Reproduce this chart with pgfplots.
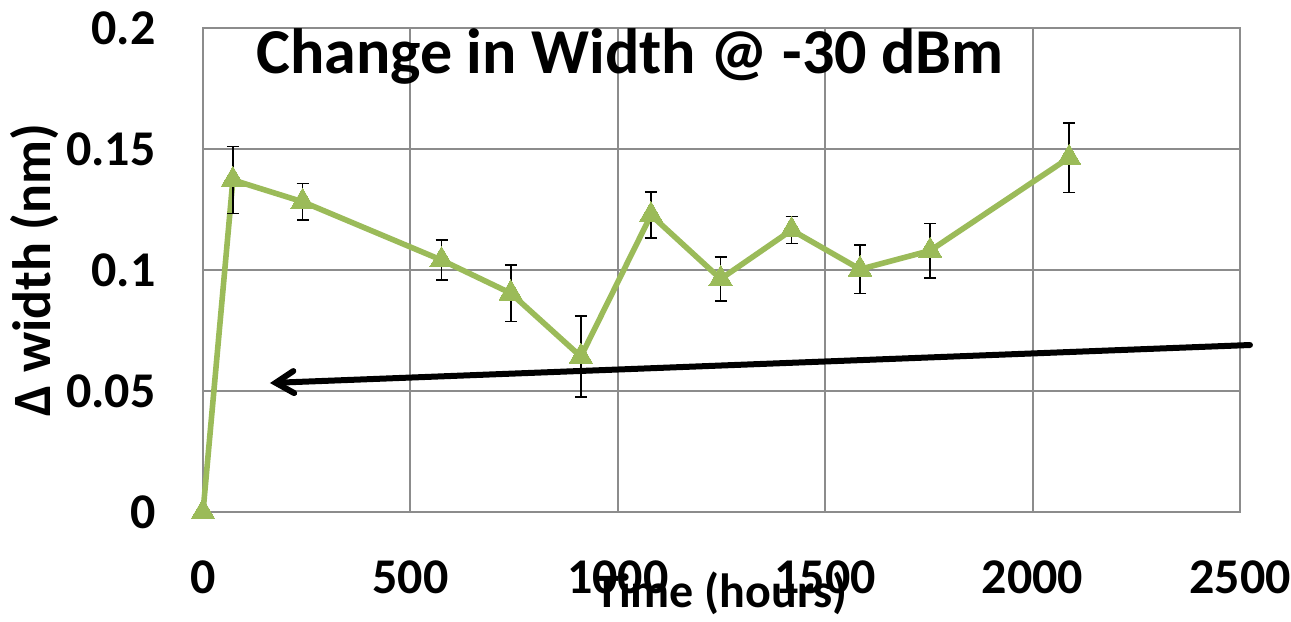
\documentclass[border=0pt]{standalone}
\usepackage{pgfplots}
\pgfplotsset{compat=1.18}
\usepackage{fontspec}
\setmainfont{Carlito}
\usetikzlibrary{arrows.meta}
\definecolor{ogreen}{HTML}{9BBB59}
\definecolor{gridgray}{RGB}{140,140,140}
\begin{document}
\begin{tikzpicture}
\begin{axis}[
  scale only axis,
  width=518.5pt, height=242pt,
  xmin=0, xmax=2500, ymin=0, ymax=0.2,
  xtick={0,500,1000,1500,2000,2500},
  xticklabels={0,500,1000,1500,2000,2500},
  ytick={0,0.05,0.1,0.15,0.2},
  yticklabels={0,0.05,0.1,0.15,0.2},
  major tick length=0pt,
  grid=major,
  major grid style={gridgray, line width=1pt},
  axis line style={gridgray, line width=1pt},
  tick label style={font=\fontsize{25}{30}\selectfont\bfseries},
  xticklabel style={anchor=north, inner sep=0pt, yshift=-24pt},
  yticklabel style={anchor=east, inner sep=0pt, xshift=-23.5pt},
  xlabel={Time (hours)},
  ylabel={Δ width (nm)},
  xlabel style={font=\fontsize{24}{28}\selectfont\bfseries, anchor=base, at={(axis description cs:0.5,-0.1983)}},
  ylabel style={font=\fontsize{27}{32}\selectfont\bfseries, anchor=base, rotate=0, at={(axis description cs:-0.1475,0.5)}},
  clip=false,
]
\addplot[color=ogreen, line width=2.8pt, mark=triangle*, mark size=6.8pt,
  mark options={fill=ogreen, draw=ogreen, line width=0pt},
  error bars/.cd, y dir=both, y explicit,
  error bar style={black, line width=0.8pt},
  error mark options={rotate=90, mark size=3pt, black, line width=0.8pt}]
coordinates {
 (0,0) +- (0,0)
 (72,0.1372) +- (0,0.0138)
 (240,0.1282) +- (0,0.0075)
 (575,0.1041) +- (0,0.0083)
 (742,0.0904) +- (0,0.0117)
 (911,0.0642) +- (0,0.0168)
 (1080,0.1227) +- (0,0.0095)
 (1248,0.0963) +- (0,0.0091)
 (1419,0.1165) +- (0,0.0056)
 (1584,0.1003) +- (0,0.0100)
 (1753,0.1080) +- (0,0.0112)
 (2088,0.1464) +- (0,0.0143)
};
\draw[black, line width=3pt, line cap=round, -{Straight Barb[length=9pt,width=11pt,line cap=round]}]
  (axis cs:2524,0.0690) -- (axis cs:161.5,0.0533);
\node[anchor=base, font=\fontsize{32}{38}\selectfont\bfseries, inner sep=0pt]
  at (rel axis cs:0.4118,0.905) {Change in Width @ -30 dBm};
\end{axis}
\path ([shift={(-101.5pt,-53pt)}]current axis.south west) rectangle ([shift={(25.5pt,14pt)}]current axis.north east);
\end{tikzpicture}
\end{document}
